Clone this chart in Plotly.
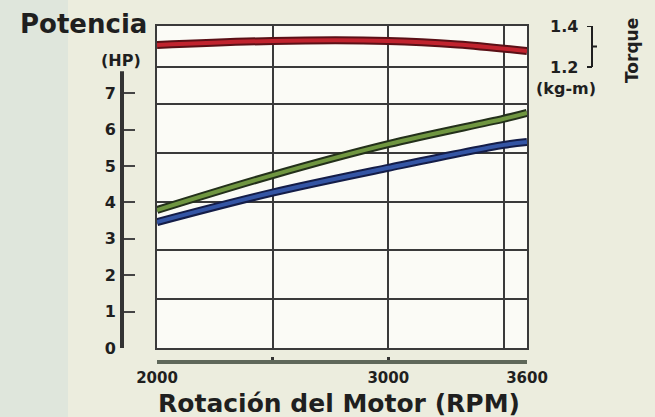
import plotly.graph_objects as go

# ---- data ----
rpm = [2000, 2500, 3000, 3500, 3600]
hp_upper = [3.79, 4.75, 5.60, 6.30, 6.46]   # green curve
hp_lower = [3.46, 4.27, 4.95, 5.58, 5.66]   # blue curve
rpm_torque = [2000, 2500, 3000, 3300, 3600]
torque = [1.307, 1.327, 1.327, 1.310, 1.278]  # kg-m

hp_ticks = [0, 1, 2, 3, 4, 5, 6, 7]
kw_grid = [1, 2, 3, 4, 5]
rpm_ticks = [2000, 2500, 3000, 3600]
rpm_ticktext = ["2000", "", "3000", "3600"]
rpm_grid = [2500, 3000, 3500]
torque_ticks = [1.2, 1.4]
torque_ticktext = ["1.2", "1.4"]
HP_PER_KW = 1.341

# ---- geometry (pixels) ----
W, H = 655, 417
L, R, T, B = 100, 128, 26, 55
PW, PH = W - L - R, H - T - B
def px(x):
    return (x - L) / PW
def py(y):
    return (H - B - y) / PH

plot_h = 322.0
hp_px = 36.4
hp_top = plot_h / hp_px
tq_px = 41.0 / 0.2
tq_bottom = 1.4 - plot_h / tq_px

INK = "#1f1f1f"
GRID = "#3a3a3a"
FONT = "DejaVu Sans"

fig = go.Figure()

def thick_line(x, y, dark, core, yaxis="y"):
    fig.add_trace(go.Scatter(x=x, y=y, mode="lines", yaxis=yaxis,
                             line=dict(color=dark, width=8, shape="spline"),
                             hoverinfo="skip", showlegend=False))
    fig.add_trace(go.Scatter(x=x, y=y, mode="lines", yaxis=yaxis,
                             line=dict(color=core, width=4, shape="spline"),
                             hoverinfo="skip", showlegend=False))

thick_line(rpm_torque, torque, "#5a1016", "#c0232e", yaxis="y2")
thick_line(rpm, hp_upper, "#23301a", "#6f9640")
thick_line(rpm, hp_lower, "#141d48", "#3455a4")

# helper trace so the grid axes are drawn
fig.add_trace(go.Scatter(x=[], y=[], xaxis="x2", yaxis="y3", showlegend=False))

bold = dict(family=FONT, size=16, color=INK, weight="bold")
bold_x = dict(family=FONT, size=15, color=INK, weight="bold")

fig.update_layout(
    width=W, height=H,
    margin=dict(l=L, r=R, t=T, b=B, pad=0),
    paper_bgcolor="#ecedde",
    plot_bgcolor="#fbfbf6",
    showlegend=False,
    hovermode=False,
    xaxis=dict(domain=[px(157), 1], range=[2000, 3600], anchor="free", position=0,
               showline=True, linecolor="#5f685a", linewidth=4,
               tickvals=rpm_ticks, ticktext=rpm_ticktext, ticks="inside",
               ticklen=3, tickwidth=3, tickcolor="#333",
               tickfont=bold_x, showgrid=False, zeroline=False,
               ticklabelstandoff=1),
    xaxis2=dict(overlaying="x", anchor="y", range=[2000, 3600],
                tickvals=rpm_grid, showticklabels=False, ticks="",
                showgrid=True, gridcolor=GRID, gridwidth=2,
                showline=True, mirror=True, linecolor=GRID, linewidth=2,
                zeroline=False),
    yaxis=dict(domain=[py(348), 1], range=[0, hp_top], anchor="free",
               position=px(122), tickvals=hp_ticks, ticks="inside",
               ticklen=12, tickwidth=2, tickcolor="#444",
               tickfont=bold, showgrid=False, zeroline=False,
               showline=False, ticklabelstandoff=6),
    yaxis2=dict(overlaying="y", side="right", anchor="x",
                range=[tq_bottom, 1.4], tickvals=torque_ticks,
                ticktext=torque_ticktext, ticks="", showgrid=True,
                gridcolor=GRID, gridwidth=2, zeroline=False, showline=False,
                tickfont=bold, ticklabelstandoff=22),
    yaxis3=dict(overlaying="y", anchor="x", range=[0, hp_top / HP_PER_KW],
                tickvals=kw_grid, showticklabels=False, ticks="",
                showgrid=True, gridcolor=GRID, gridwidth=2,
                showline=True, mirror=True, linecolor=GRID, linewidth=2,
                zeroline=False),
)

shapes = [
    # greenish textured left strip of the scan
    dict(type="rect", xref="paper", yref="paper", x0=px(0), x1=px(68),
         y0=py(H), y1=py(0), fillcolor="#dfe6dc", line=dict(width=0), layer="below"),
    # HP axis line
    dict(type="line", xref="paper", yref="y", x0=px(122), x1=px(122),
         y0=0, y1=7.6, line=dict(color="#333", width=4)),
    # torque bracket
    dict(type="line", xref="paper", yref="y2", x0=px(592), x1=px(592),
         y0=1.2, y1=1.4, line=dict(color=INK, width=2)),
    dict(type="line", xref="paper", yref="y2", x0=px(587), x1=px(592),
         y0=1.4, y1=1.4, line=dict(color=INK, width=2)),
    dict(type="line", xref="paper", yref="y2", x0=px(587), x1=px(592),
         y0=1.2, y1=1.2, line=dict(color=INK, width=2)),
    dict(type="line", xref="paper", yref="y2", x0=px(592), x1=px(597),
         y0=1.3, y1=1.3, line=dict(color=INK, width=2)),
]
fig.update_layout(shapes=shapes)

def ann(text, x, y, size, angle=0):
    fig.add_annotation(text=text, xref="paper", yref="paper", x=px(x), y=py(y),
                       xanchor="center", yanchor="middle", showarrow=False,
                       textangle=angle,
                       font=dict(family=FONT, size=size, color=INK, weight="bold"))

ann("Potencia", 83, 24, 26)
ann("(HP)", 121, 61, 16)
ann("(kg-m)", 566, 88, 16)
ann("Torque", 632, 51, 17, angle=-90)
ann("Rotación del Motor (RPM)", 339, 403, 25)

fig.write_html("out.html",
               config={"displayModeBar": False, "staticPlot": True},
               post_script="document.body.style.margin='0px';"
                           "document.body.style.overflow='hidden';")
